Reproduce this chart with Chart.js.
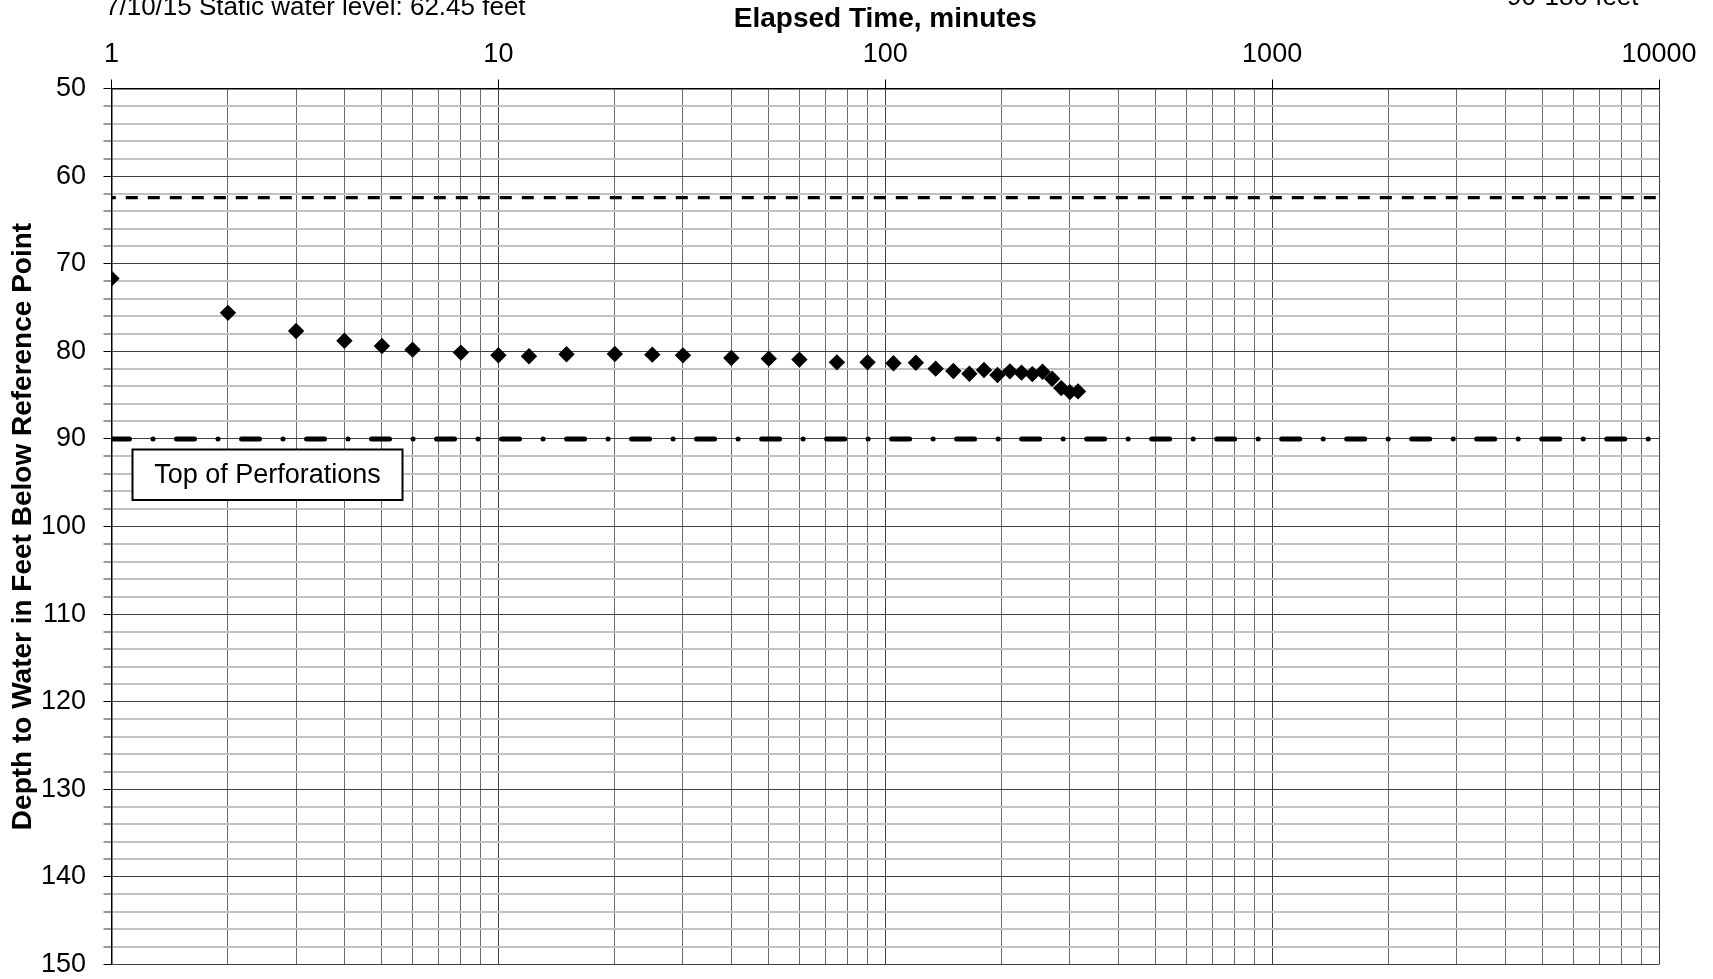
<!DOCTYPE html>
<html><head><meta charset="utf-8">
<script src="https://cdn.jsdelivr.net/npm/chart.js@4.4.1/dist/chart.umd.min.js"></script>
<style>html,body{margin:0;padding:0;background:#fff;overflow:hidden}#wrap{position:relative;width:1713px;height:979px}</style>
</head><body><div id="wrap"><canvas id="c" width="1713" height="979"></canvas></div>
<script>
// ---- data ----
const elapsedMinutes = [1,2,3,4,5,6,8,10,12,15,20,25,30,40,50,60,75,90,105,120,135,150,165,180,195,210,225,240,255,270,285,300,315];
const depthToWater = [71.70,75.61,77.69,78.79,79.39,79.81,80.15,80.45,80.57,80.34,80.31,80.38,80.46,80.76,80.84,80.95,81.26,81.26,81.37,81.30,81.98,82.25,82.56,82.14,82.71,82.29,82.44,82.60,82.33,83.13,84.20,84.66,84.58];
const staticWaterLevel = 62.45;
const topOfPerforations = 90;
const xRange = [1, 10000];
const yRange = [50, 150];
const xTickValues = [1,2,3,4,5,6,7,8,9,10,20,30,40,50,60,70,80,90,100,200,300,400,500,600,700,800,900,1000,2000,3000,4000,5000,6000,7000,8000,9000,10000];
const yTickStep = 2;
const yLabelStep = 10;
const staticNote = '7/10/15 Static water level: 62.45 feet';
const perfNote = '90-180 feet';
const boxNote = 'Top of Perforations';
const xTitle = 'Elapsed Time, minutes';
const yTitle = 'Depth to Water in Feet Below Reference Point';

const FONT = '"Liberation Sans", Arial, sans-serif';
Chart.defaults.font.family = FONT;
Chart.defaults.color = '#000';

const isDecade = v => Math.abs(Math.log10(v) - Math.round(Math.log10(v))) < 1e-9;

const points = elapsedMinutes.map((t, i) => ({x: t, y: depthToWater[i]}));
const staticLine = xRange.map(x => ({x, y: staticWaterLevel}));
const perfLine = xRange.map(x => ({x, y: topOfPerforations}));

const notesPlugin = {
  id: 'notes',
  afterDraw(chart) {
    const ctx = chart.ctx;
    ctx.save();
    ctx.fillStyle = '#000';
    ctx.font = '26px ' + FONT;
    ctx.textBaseline = 'alphabetic';
    ctx.textAlign = 'left';
    ctx.fillText(staticNote, 105, 15);
    ctx.fillText(perfNote, 1507, 5);
    // annotation box
    const bx = 132.5, by = 449.5, bw = 270, bh = 50.5;
    ctx.fillStyle = '#fff';
    ctx.fillRect(bx, by, bw, bh);
    ctx.strokeStyle = '#000';
    ctx.lineWidth = 2;
    ctx.strokeRect(bx, by, bw, bh);
    ctx.fillStyle = '#000';
    ctx.font = '27px ' + FONT;
    ctx.textAlign = 'center';
    ctx.textBaseline = 'middle';
    ctx.fillText(boxNote, bx + bw / 2, by + bh / 2 + 1);
    ctx.restore();
  }
};

new Chart(document.getElementById('c'), {
  type: 'scatter',
  data: {
    datasets: [
      {
        label: 'Depth to water',
        data: points,
        pointStyle: 'rectRot',
        pointRadius: 8.2,
        pointBackgroundColor: '#000',
        pointBorderColor: '#000',
        pointBorderWidth: 0,
        showLine: false
      },
      {
        type: 'line',
        label: 'Static water level',
        data: staticLine,
        borderColor: '#000',
        borderWidth: 3.3,
        borderDash: [12, 10],
        borderDashOffset: 7.7,
        pointRadius: 0,
        fill: false
      },
      {
        type: 'line',
        label: 'Top of perforations',
        data: perfLine,
        borderColor: '#000',
        borderWidth: 5,
        borderDash: [18, 23.5, 0.01, 23.5],
        borderCapStyle: 'round',
        pointRadius: 0,
        fill: false
      }
    ]
  },
  options: {
    responsive: false,
    devicePixelRatio: 1,
    animation: false,
    layout: {padding: {top: 0, left: 0, right: 54, bottom: 14.5}},
    plugins: {legend: {display: false}, tooltip: {enabled: false}, title: {display: false}},
    scales: {
      x: {
        type: 'logarithmic',
        position: 'top',
        min: xRange[0],
        max: xRange[1],
        afterBuildTicks(scale) {
          scale.ticks = xTickValues.map(v => ({value: v, major: isDecade(v)}));
        },
        afterFit(scale) {
          scale.height = 88.5;
          scale.paddingLeft = 0; scale.paddingRight = 0; scale.paddingTop = 0; scale.paddingBottom = 0;
        },
        ticks: {
          autoSkip: false,
          maxRotation: 0,
          minRotation: 0,
          padding: 8.5,
          font: {size: 27},
          color: '#000',
          callback: v => isDecade(v) ? String(v) : ''
        },
        grid: {
          color: c => (c.tick && isDecade(c.tick.value)) ? '#404040' : '#6a6a6a',
          lineWidth: 1,
          tickLength: 9,
          tickColor: c => (c.tick && isDecade(c.tick.value)) ? '#000' : 'rgba(0,0,0,0)'
        },
        border: {display: true, color: '#000', width: 1.5},
        title: {
          display: true,
          text: xTitle,
          font: {size: 28, weight: 'bold'},
          padding: {top: 2, bottom: 0}
        }
      },
      y: {
        type: 'linear',
        position: 'left',
        reverse: true,
        min: yRange[0],
        max: yRange[1],
        afterFit(scale) {
          scale.width = 111.5;
          scale.paddingLeft = 0; scale.paddingRight = 0; scale.paddingTop = 0; scale.paddingBottom = 0;
        },
        ticks: {
          stepSize: yTickStep,
          autoSkip: false,
          padding: 17.5,
          font: {size: 27},
          color: '#000',
          callback: v => (v % yLabelStep === 0) ? String(v) : ''
        },
        grid: {
          color: c => (c.tick && c.tick.value % yLabelStep === 0) ? '#404040' : '#c2c2c2',
          lineWidth: c => (c.tick && c.tick.value % yLabelStep === 0) ? 1 : 2,
          tickLength: 8,
          tickColor: c => (c.tick && c.tick.value % yLabelStep === 0) ? '#000' : '#9a9a9a'
        },
        border: {display: true, color: '#000', width: 1.5},
        title: {
          display: true,
          text: yTitle,
          font: {size: 28, weight: 'bold'},
          padding: {top: 6, bottom: 0}
        }
      }
    }
  },
  plugins: [notesPlugin]
});
</script>
</body></html>
